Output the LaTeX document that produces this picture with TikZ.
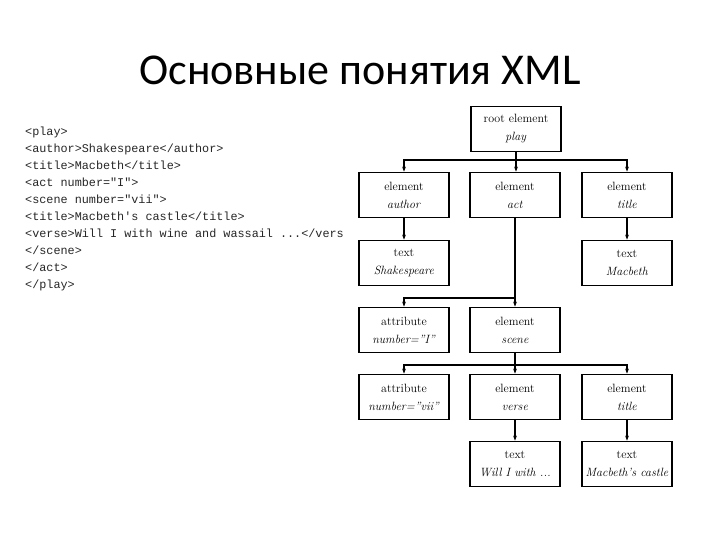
\documentclass[tikz,border=0pt]{standalone}
\usepackage{fontspec}
\usetikzlibrary{arrows.meta}
\newfontfamily\titlefont{Carlito}
\newfontfamily\codefont{Liberation Mono}
\begin{document}
\begin{tikzpicture}[x=1pt,y=-1pt,
  box/.style={draw,line width=1.8pt,minimum width=90pt,minimum height=45pt,inner sep=0pt,font=\fontsize{12}{18}\selectfont,align=center},
  arr/.style={line width=1.8pt,-{Stealth[length=5pt]}},
  ln/.style={line width=1.8pt}]
\useasboundingbox (0,0) rectangle (720,540);
\node[font=\titlefont\fontsize{44}{50}\selectfont] (t) at (360,70) {Основные понятия XML};
\node[anchor=north west,align=left,font=\codefont\fontsize{11.8}{17}\selectfont,inner sep=0pt,text=black!85] (code) at (25,127) {%
<play>\\<author>Shakespeare</author>\\<title>Macbeth</title>\\<act number="I">\\<scene number="vii">\\<title>Macbeth's castle</title>\\<verse>Will I with wine and wassail ...</vers\\</scene>\\</act>\\</play>};
\node[box] (root) at (516,129) {root element\\\textit{play}};
\node[box] (author) at (404,195) {element\\\textit{author}};
\node[box] (act) at (515,195) {element\\\textit{act}};
\node[box] (title) at (627,195) {element\\\textit{title}};
\node[box] (shak) at (404,263) {text\\\textit{Shakespeare}};
\node[box] (mac) at (627,263) {text\\\textit{Macbeth}};
\node[box] (attr1) at (404,330) {attribute\\\textit{number="I"}};
\node[box] (scene) at (515,330) {element\\\textit{scene}};
\node[box] (attr2) at (404,397) {attribute\\\textit{number="vii"}};
\node[box] (verse) at (515,397) {element\\\textit{verse}};
\node[box] (title2) at (627,397) {element\\\textit{title}};
\node[box] (will) at (515,464) {text\\\textit{Will I with ...}};
\node[box] (castle) at (627,464) {text\\\textit{Macbeth's castle}};
\coordinate (b1) at (516,160);
\draw[ln] (root.south) -- (b1);
\draw[arr] (b1) -| (author.north);
\draw[arr] (b1) -| (title.north);
\draw[arr] (b1) -- (b1 |- act.north);
\draw[arr] (author) -- (shak);
\draw[arr] (title) -- (mac);
\coordinate (b2) at (515,298);
\draw[ln] (act.south) -- (b2);
\draw[arr] (b2) -| (attr1.north);
\draw[arr] (b2) -- (scene.north);
\coordinate (b3) at (515,365);
\draw[ln] (scene.south) -- (b3);
\draw[arr] (b3) -| (attr2.north);
\draw[arr] (b3) -| (title2.north);
\draw[arr] (b3) -- (verse.north);
\draw[arr] (verse) -- (will);
\draw[arr] (title2) -- (castle);
\end{tikzpicture}
\end{document}
